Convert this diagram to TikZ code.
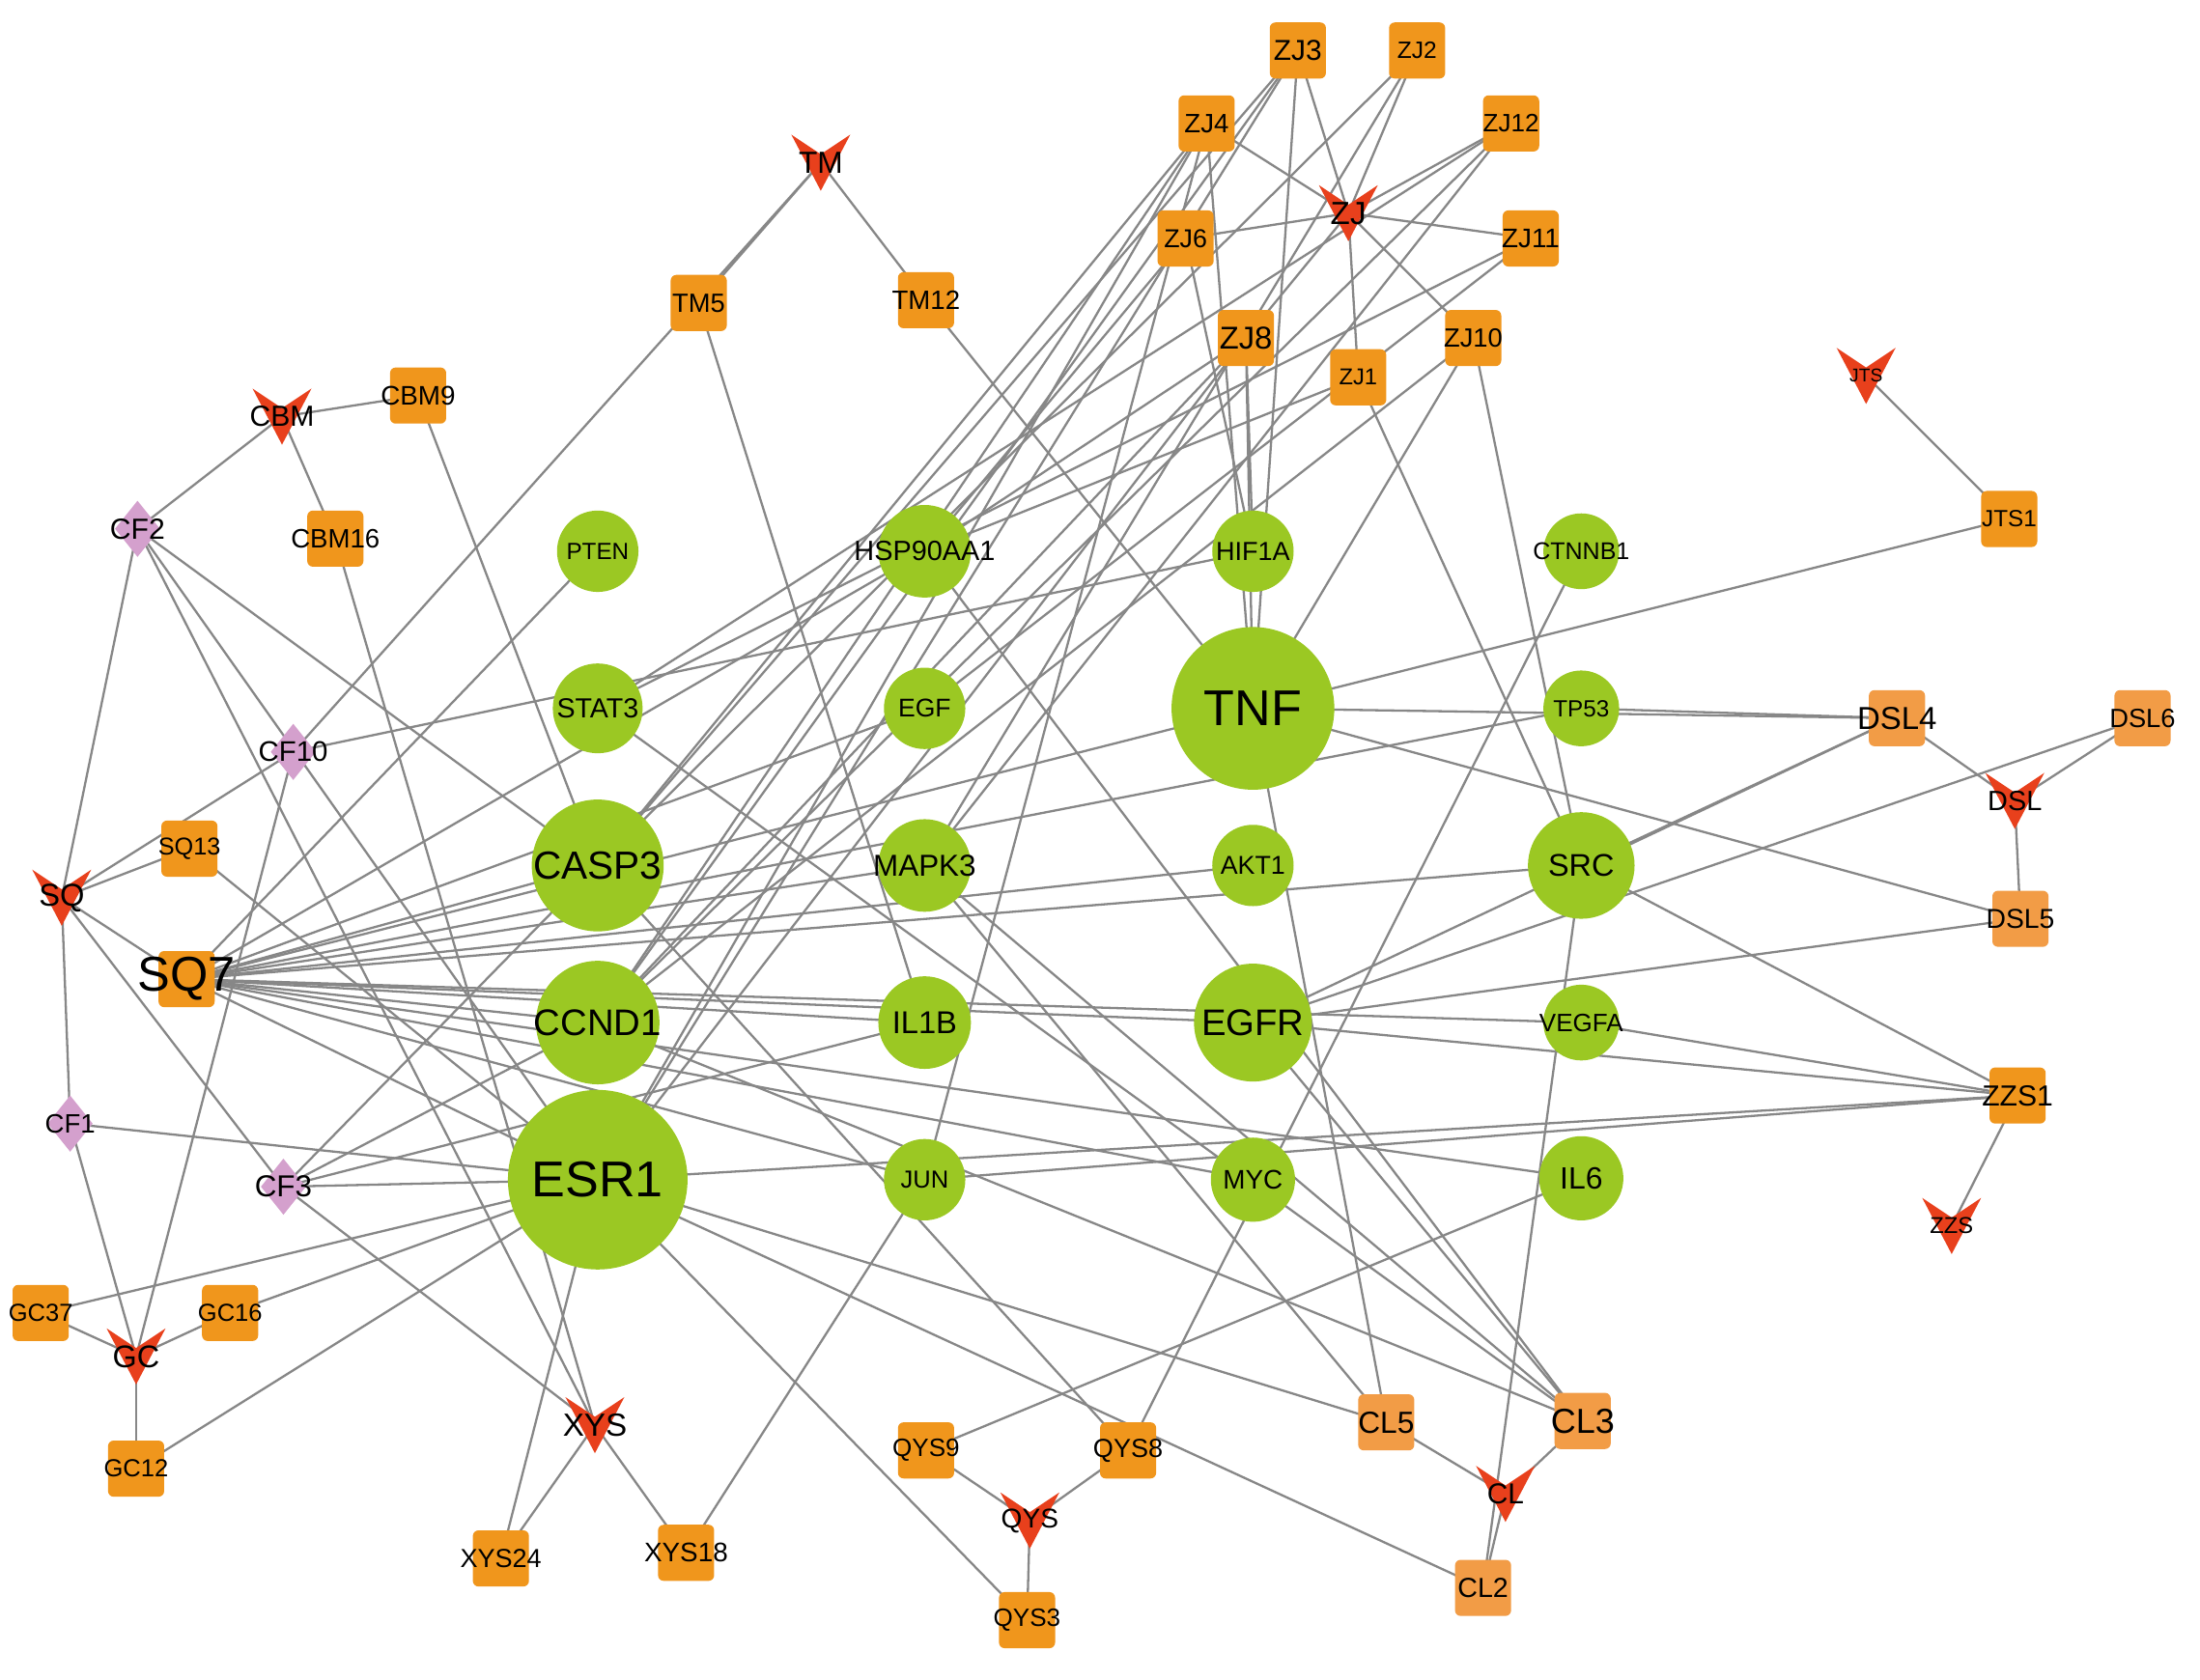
\documentclass[tikz,border=0pt]{standalone}
\usepackage{fontspec}
\setmainfont{Liberation Sans}

\pgfdeclarelayer{edges}
\pgfsetlayers{edges,main}

\definecolor{tgreen}{HTML}{9BC823}
\definecolor{corange}{HTML}{F0961C}
\definecolor{corangel}{HTML}{F29C46}
\definecolor{cpink}{HTML}{D4A0CD}
\definecolor{hred}{HTML}{E8401C}
\definecolor{edgegray}{HTML}{878787}

\begin{document}
\begin{tikzpicture}[x=0.2mm, y=-0.2mm,
  fs/.style={font=\fontsize{#1pt}{#1pt}\selectfont},
  edge/.style={draw=edgegray, line width=0.9pt},
  tgt/.style={circle, fill=tgreen, inner sep=0pt, minimum size=#1*0.4mm},
  cmp/.style={rectangle, rounded corners=0.8mm, fill=corange, inner sep=0pt,
    minimum width=8mm, minimum height=8mm},
  cmpl/.style={cmp, fill=corangel},
  herb/.style={inner sep=0pt, minimum size=8mm},
  vee/.pic={\fill[hred] (-21,-20) -- (0,-6) -- (21,-20) -- (0,20) -- cycle;},
  diam/.pic={\fill[cpink] (0,-20) -- (16,0) -- (0,20) -- (-16,0) -- cycle;}]

  \useasboundingbox (0,0) rectangle (1568,1197);

  % targets
  \foreach \nm/\px/\py/\rad/\fsz in {PTEN/426/393/29/9.5, HSP90AA1/659/393/33/11.3,
      HIF1A/893/393/29/10.6, CTNNB1/1127/393/27/9.8, STAT3/426/505/32/11.2,
      EGF/659/505/29/10.4, TNF/893/505/58/20.4, TP53/1127/505/27/9.5,
      CASP3/426/617/47/15.9, MAPK3/659/617/33/12.3, AKT1/893/617/29/10.5,
      SRC/1127/617/38/12.7, CCND1/426/729/44/15.0, IL1B/659/729/33/12.8,
      EGFR/893/729/42/15.0, VEGFA/1127/729/27/10.2, ESR1/426/841/64/20.4,
      JUN/659/841/29/10.0, MYC/893/841/30/10.9, IL6/1127/840/30/12.5}
    \node[tgt=\rad, label={[fs=\fsz]center:\nm}] (\nm) at (\px,\py) {};

  % herbs
  \foreach \nm/\px/\py/\fsz in {TM/585/116/12.4, ZJ/961/152/13.0, CBM/201/297/11.8,
      JTS/1330/268/7.5, SQ/44/640/12.8, DSL/1436/571/11.3, ZZS/1391/874/9.3,
      GC/97/967/12.7, XYS/424/1016/13.0, QYS/734/1084/11.0, CL/1073/1065/11.7}
  {
    \pic at (\px,\py) {vee};
    \node[herb, label={[fs=\fsz]center:\nm}] (\nm) at (\px,\py) {};
  }

  % compounds
  \foreach \nm/\px/\py/\fsz in {ZJ3/925/36/11.7, ZJ2/1010/36/9.6, ZJ4/860/88/10.8,
      ZJ12/1077/88/10.2, ZJ6/845/170/10.5, ZJ11/1091/170/10.9, TM5/498/216/10.7,
      TM12/660/214/10.8, ZJ8/888/241/12.8, ZJ1/968/269/9.3, ZJ10/1050/241/10.7,
      CBM9/298/282/10.9, CBM16/239/384/10.8, JTS1/1432/370/9.5, SQ13/135/605/9.9,
      SQ7/133/698/19.8, ZZS1/1438/781/11.8, GC37/29/936/10.0, GC16/164/936/10.0,
      GC12/97/1047/10.0, XYS24/357/1111/10.6, XYS18/489/1107/10.9,
      QYS9/660/1034/10.2, QYS8/804/1034/10.6, QYS3/732/1155/10.2}
    \node[cmp, label={[fs=\fsz]center:\nm}] (\nm) at (\px,\py) {};

  \foreach \nm/\px/\py/\fsz in {DSL4/1352/512/12.9, DSL6/1527/512/10.7,
      DSL5/1440/655/11.1, CL5/988/1014/12.4, CL3/1128/1013/14.1, CL2/1057/1132/11.2}
    \node[cmpl, label={[fs=\fsz]center:\nm}] (\nm) at (\px,\py) {};

  % shared compounds
  \foreach \nm/\px/\py/\fsz in {CF2/98/377/11.8, CF10/209/536/11.5,
      CF1/50/801/10.8, CF3/202/846/12.3}
  {
    \pic at (\px,\py) {diam};
    \node[herb, label={[fs=\fsz]center:\nm}] (\nm) at (\px,\py) {};
  }

  \begin{pgfonlayer}{edges}
    \fill[white] (0,0) rectangle (1568,1197);
    % herb - compound
    \foreach \a/\b in {TM/TM5, TM/TM12, TM/CF10,
        ZJ/ZJ3, ZJ/ZJ2, ZJ/ZJ4, ZJ/ZJ12, ZJ/ZJ6, ZJ/ZJ11, ZJ/ZJ8, ZJ/ZJ1, ZJ/ZJ10,
        CBM/CBM9, CBM/CBM16, CBM/CF2, JTS/JTS1,
        SQ/SQ13, SQ/SQ7, SQ/CF2, SQ/CF10, SQ/CF1, SQ/CF3,
        DSL/DSL4, DSL/DSL6, DSL/DSL5, ZZS/ZZS1,
        GC/GC37, GC/GC16, GC/GC12, GC/CF1, GC/CF10,
        XYS/XYS24, XYS/XYS18, XYS/CF2, XYS/CF3, XYS/CBM16,
        QYS/QYS9, QYS/QYS8, QYS/QYS3, CL/CL5, CL/CL3, CL/CL2}
      \draw[edge] (\a.center) -- (\b.center);
    % compound - target
    \foreach \a/\b in {TM5/IL1B, TM12/TNF,
        ZJ3/TNF, ZJ3/CASP3, ZJ3/CCND1, ZJ3/ESR1,
        ZJ4/TNF, ZJ4/CASP3, ZJ4/CCND1, ZJ4/JUN, ZJ4/ESR1,
        ZJ2/MAPK3, ZJ2/CASP3, ZJ12/STAT3, ZJ12/MAPK3, ZJ12/CCND1,
        ZJ6/HIF1A, ZJ6/HSP90AA1, ZJ11/STAT3, ZJ11/EGF,
        ZJ8/HIF1A, ZJ8/TNF, ZJ8/HSP90AA1, ZJ8/CCND1, ZJ8/ESR1,
        ZJ1/SRC, ZJ1/HSP90AA1, ZJ10/SRC, ZJ10/TNF, ZJ10/CCND1,
        CBM9/CASP3, JTS1/TNF, SQ13/ESR1,
        SQ7/PTEN, SQ7/CASP3, SQ7/CCND1, SQ7/ESR1, SQ7/IL1B, SQ7/MAPK3,
        SQ7/AKT1, SQ7/EGF, SQ7/TNF, SQ7/TP53, SQ7/SRC, SQ7/EGFR, SQ7/VEGFA,
        SQ7/IL6, SQ7/MYC, SQ7/JUN, SQ7/HSP90AA1,
        CF1/ESR1, CF2/CASP3, CF2/ESR1, CF3/CASP3, CF3/CCND1, CF3/ESR1, CF3/IL1B,
        CF10/HIF1A,
        DSL4/SRC, DSL4/EGFR, DSL4/TP53, DSL4/TNF, DSL6/EGFR, DSL5/TNF, DSL5/EGFR,
        ZZS1/SRC, ZZS1/VEGFA, ZZS1/ESR1, ZZS1/JUN, ZZS1/EGFR,
        GC37/ESR1, GC16/ESR1, GC12/ESR1, XYS24/ESR1, XYS18/JUN,
        QYS9/IL6, QYS8/CTNNB1, QYS8/CASP3, QYS3/ESR1,
        CL5/TNF, CL5/ESR1, CL5/MAPK3,
        CL3/HSP90AA1, CL3/EGFR, CL3/MAPK3, CL3/STAT3, CL3/CCND1,
        CL2/SRC, CL2/ESR1}
      \draw[edge] (\a.center) -- (\b.center);
  \end{pgfonlayer}

\end{tikzpicture}
\end{document}
